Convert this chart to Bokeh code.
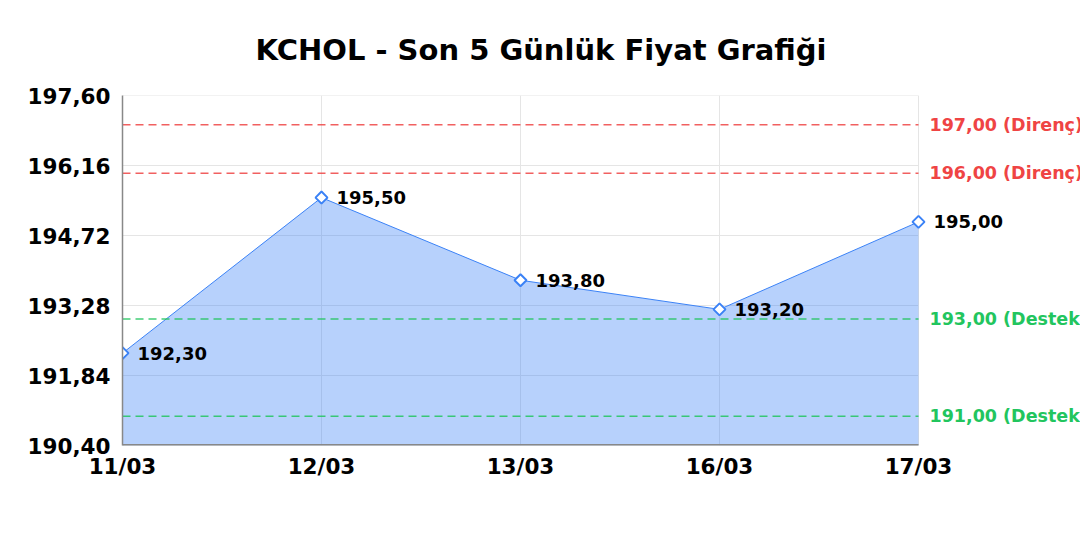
import math
from bokeh.models import ColumnDataSource, Range1d, FixedTicker, CustomJSTickFormatter
from bokeh.plotting import figure
from bokeh.core.properties import value
from bokeh.embed import file_html
from bokeh.resources import INLINE

# data
dates = ["11/03", "12/03", "13/03", "16/03", "17/03"]
prices = [192.30, 195.50, 193.80, 193.20, 195.00]
resistance = [197.00, 196.00]
support = [193.00, 191.00]
y_ticks = [190.40, 191.84, 193.28, 194.72, 196.16, 197.60]

FONT = "DejaVu Sans"
BLUE = "#3b82f6"
RED = "#ef4444"
GREEN = "#22c55e"

def tr(v):
    return ("%.2f" % v).replace(".", ",")

xs = list(range(len(dates)))
x_last = xs[-1]
source = ColumnDataSource(data=dict(
    x=xs, y=prices, base=[y_ticks[0]] * len(xs), lbl=[tr(v) for v in prices]))

levels = resistance + support
lev_src = ColumnDataSource(data=dict(
    y=levels,
    x0=[xs[0]] * len(levels), x1=[x_last] * len(levels),
    lbl=[tr(v) + " (Direnç)" for v in resistance] + [tr(v) + " (Destek)" for v in support],
    color=[RED] * len(resistance) + [GREEN] * len(support)))

grid_src = ColumnDataSource(data=dict(y=y_ticks, x0=[xs[0]] * len(y_ticks), x1=[x_last] * len(y_ticks)))

# plot area reaches the right edge so the side labels can live inside it
PLOT_W = 796
FRAME_W = 958
x_max = x_last * FRAME_W / PLOT_W

p = figure(frame_width=FRAME_W, frame_height=350,
           min_border_left=122, min_border_right=0, min_border_top=95, min_border_bottom=85,
           x_range=Range1d(0, x_max), y_range=Range1d(y_ticks[0], y_ticks[-1]),
           output_backend="svg", toolbar_location=None, title="KCHOL - Son 5 Günlük Fiyat Grafiği")

p.title.text_font = FONT
p.title.text_font_size = "29px"
p.title.text_font_style = "bold"
p.title.text_color = "black"
p.title.align = "left"
p.title.offset = 133
p.title.standoff = 58
p.outline_line_color = None

# axes
p.yaxis.ticker = FixedTicker(ticks=y_ticks)
p.yaxis.formatter = CustomJSTickFormatter(code="return tick.toFixed(2).replace('.', ',');")
p.xaxis.ticker = FixedTicker(ticks=xs)
p.xaxis.major_label_overrides = {i: d for i, d in enumerate(dates)}
for ax in (p.xaxis, p.yaxis):
    ax.major_label_text_font = FONT
    ax.major_label_text_font_size = "21.5px"
    ax.major_label_text_font_style = "bold"
    ax.major_label_text_color = "black"
    ax.major_tick_line_color = None
    ax.minor_tick_line_color = None
    ax.axis_line_color = "#888888"
    ax.axis_line_width = 1.5
p.xaxis.axis_line_color = None
p.yaxis.major_label_standoff = 6
p.xaxis.major_label_standoff = 2
p.xgrid.ticker = FixedTicker(ticks=xs)
p.xgrid.grid_line_color = "#e5e5e5"
p.ygrid.grid_line_color = None

# horizontal grid, only across the data span
p.segment(x0="x0", x1="x1", y0="y", y1="y", source=grid_src, line_color="#e5e5e5", line_width=1)

# area + line
p.varea(x="x", y1="base", y2="y", source=source, fill_color=BLUE, fill_alpha=0.37)
p.line(x="x", y="y", source=source, line_color=BLUE, line_width=1)

# bottom axis line
p.segment(x0=[xs[0]], x1=[x_last], y0=[y_ticks[0]], y1=[y_ticks[0]], line_color="#888888", line_width=3)

# support / resistance lines
p.segment(x0="x0", x1="x1", y0="y", y1="y", source=lev_src, line_color="color",
          line_alpha=0.85, line_width=1.5, line_dash="8 5")
p.text(x="x1", y="y", text="lbl", source=lev_src, x_offset=11, text_baseline="middle",
       text_color="color", text_font=value(FONT), text_font_size="17.5px", text_font_style="bold")

# markers + value labels
p.scatter(x="x", y="y", source=source, marker="square", size=8.5, angle=math.pi / 4,
          fill_color="white", line_color=BLUE, line_width=2)
p.text(x="x", y="y", text="lbl", source=source, x_offset=15, text_baseline="middle",
       text_color="black", text_font=value(FONT), text_font_size="18px", text_font_style="bold")

open("out.html", "w").write(file_html(p, INLINE))
